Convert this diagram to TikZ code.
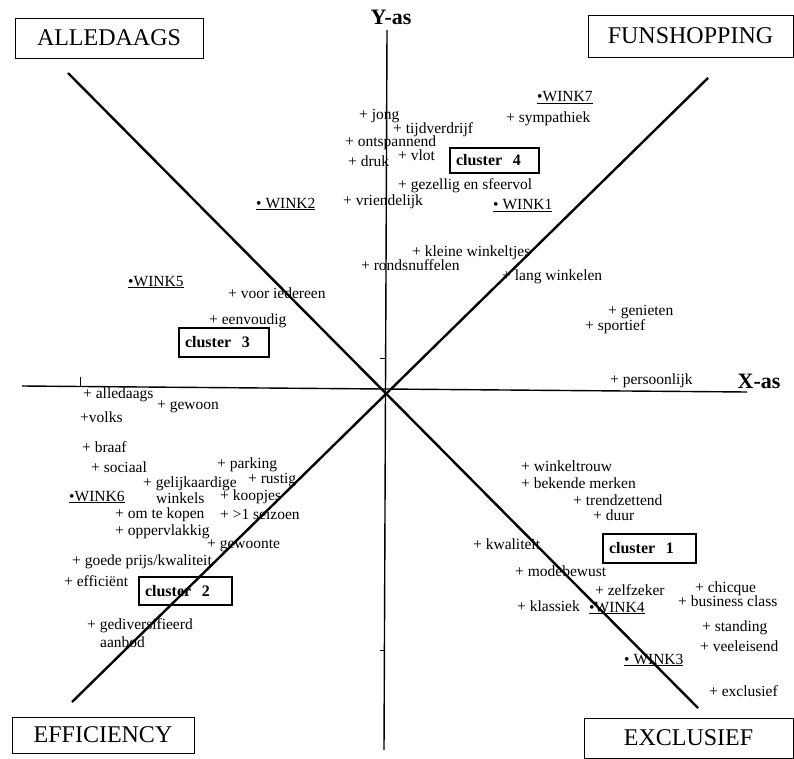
\documentclass[tikz,border=0pt]{standalone}
\usepackage{fontspec}
\setmainfont{Liberation Serif}
\begin{document}
\begin{tikzpicture}[x=1pt,y=-1pt,
  lbl/.style={font=\fontsize{15.5}{16}\selectfont, anchor=west, inner sep=0pt, text height=8pt, text depth=2pt},
  corner/.style={draw, line width=0.8pt, inner sep=0pt, font=\fontsize{24}{25}\selectfont},
  cluster/.style={draw, line width=1.3pt, inner sep=0pt, inner xsep=6pt, align=left, font=\bfseries\fontsize{16}{17}\selectfont},
  axlbl/.style={font=\bfseries\fontsize{22}{24}\selectfont, inner sep=0pt},
  axis/.style={line width=1.4pt},
  diag/.style={line width=2.4pt},
  tick/.style={line width=0.8pt}
]
\useasboundingbox (0,0) rectangle (794,759);
% axes and diagonals
\coordinate (ytop) at (387,30);
\coordinate (ybot) at (384,750);
\coordinate (xleft) at (22,386);
\coordinate (xright) at (747,392);
\coordinate (d1a) at (68,73);
\coordinate (d1b) at (698,708);
\coordinate (d2a) at (72,702);
\coordinate (d2b) at (708,78);
\draw[axis] (ytop) -- (ybot);
\draw[axis] (xleft) -- (xright);
\draw[diag] (d1a) -- (d1b);
\draw[diag] (d2a) -- (d2b);
% ticks
\coordinate (t1a) at (80,377); \coordinate (t1b) at (80,386);
\coordinate (t2a) at (380,358); \coordinate (t2b) at (386,358);
\coordinate (t3a) at (380,650); \coordinate (t3b) at (385,650);
\draw[tick] (t1a) -- (t1b);
\draw[tick] (t2a) -- (t2b);
\draw[tick] (t3a) -- (t3b);
% axis labels
\node[axlbl] (yas) at (391,17) {Y-as};
\node[axlbl] (xas) at (759,381) {X-as};
% corner boxes
\node[corner, minimum width=188pt, minimum height=40pt] (alledaagsbox) at (109,38) {ALLEDAAGS};
\node[corner, minimum width=205pt, minimum height=42pt] (funbox) at (690.5,36) {FUNSHOPPING};
\node[corner, minimum width=182pt, minimum height=36pt] (effbox) at (103,735) {EFFICIENCY};
\node[corner, minimum width=209pt, minimum height=40pt] (exclbox) at (688.5,738) {EXCLUSIEF};
% clusters
\node[cluster, text width=77pt, minimum height=25pt] (c4) at (494.5,160.5) {cluster\ \ 4};
\node[cluster, text width=78pt, minimum height=29pt] (c3) at (224,342.5) {cluster\ \ 3};
\node[cluster, text width=81pt, minimum height=28pt] (c2) at (185.5,591) {cluster\ \ 2};
\node[cluster, text width=81pt, minimum height=29pt] (c1) at (649.5,548.5) {cluster\ \ 1};
% shops
\node[lbl] (w7) at (537,99) {\underline{\textbullet WINK7}};
\node[lbl] (w1) at (493,207) {\underline{\textbullet\ WINK1}};
\node[lbl] (w2) at (256,205) {\underline{\textbullet\ WINK2}};
\node[lbl] (w5) at (128,283) {\underline{\textbullet WINK5}};
\node[lbl] (w6) at (69,498) {\underline{\textbullet WINK6}};
\node[lbl] (w4) at (589,609) {\underline{\textbullet WINK4}};
\node[lbl] (w3) at (624,661) {\underline{\textbullet\ WINK3}};
% attributes upper
\node[lbl] (jong) at (359,117) {+ jong};
\node[lbl] (tijd) at (393,131) {+ tijdverdrijf};
\node[lbl] (ontsp) at (345,144) {+ ontspannend};
\node[lbl] (druk) at (348,164) {+ druk};
\node[lbl] (vlot) at (398,158) {+ vlot};
\node[lbl] (gez) at (398,187) {+ gezellig en sfeervol};
\node[lbl] (vriend) at (343,203) {+ vriendelijk};
\node[lbl] (symp) at (506,120) {+ sympathiek};
\node[lbl] (klein) at (412,253) {+ kleine winkeltjes};
\node[lbl] (ronds) at (361,267) {+ rondsnuffelen};
\node[lbl] (lang) at (502,277) {+ lang winkelen};
\node[lbl] (genie) at (608,312) {+ genieten};
\node[lbl] (sport) at (585,327) {+ sportief};
\node[lbl] (pers) at (610,381) {+ persoonlijk};
\node[lbl] (iedereen) at (228,295) {+ voor iedereen};
\node[lbl] (eenv) at (209,321) {+ eenvoudig};
% attributes lower left
\node[lbl] (alled) at (83,395) {+ alledaags};
\node[lbl] (gewoon) at (157,406) {+ gewoon};
\node[lbl] (volks) at (80,419) {+volks};
\node[lbl] (braaf) at (82,449) {+ braaf};
\node[lbl] (sociaal) at (91,469) {+ sociaal};
\node[lbl] (parking) at (217,465) {+ parking};
\node[lbl] (rustig) at (248,480) {+ rustig};
\node[lbl] (gelijk) at (143,484) {+ gelijkaardige};
\node[lbl] (winkels) at (156,500) {winkels};
\node[lbl] (koopjes) at (220,497) {+ koopjes};
\node[lbl] (omte) at (115,515) {+ om te kopen};
\node[lbl] (seizoen) at (220,516) {+ >1 seizoen};
\node[lbl] (opp) at (115,532) {+ oppervlakkig};
\node[lbl] (gewoonte) at (207,545) {+ gewoonte};
\node[lbl] (goede) at (72,562) {+ goede prijs/kwaliteit};
\node[lbl] (effic) at (64,583) {+ efficiënt};
\node[lbl] (gediv) at (87,626) {+ gediversifieerd};
\node[lbl] (aanbod) at (100,644) {aanbod};
% attributes lower right
\node[lbl] (trouw) at (521,468) {+ winkeltrouw};
\node[lbl] (merken) at (521,485) {+ bekende merken};
\node[lbl] (trend) at (573,502) {+ trendzettend};
\node[lbl] (duur) at (593,517) {+ duur};
\node[lbl] (kwal) at (473,546) {+ kwaliteit};
\node[lbl] (mode) at (515,573) {+ modebewust};
\node[lbl] (zelf) at (595,592) {+ zelfzeker};
\node[lbl] (chic) at (695,589) {+ chicque};
\node[lbl] (busi) at (678,603) {+ business class};
\node[lbl] (klass) at (517,608) {+ klassiek};
\node[lbl] (stand) at (702,628) {+ standing};
\node[lbl] (veel) at (700,648) {+ veeleisend};
\node[lbl] (excl) at (709,693) {+ exclusief};
\end{tikzpicture}
\end{document}
